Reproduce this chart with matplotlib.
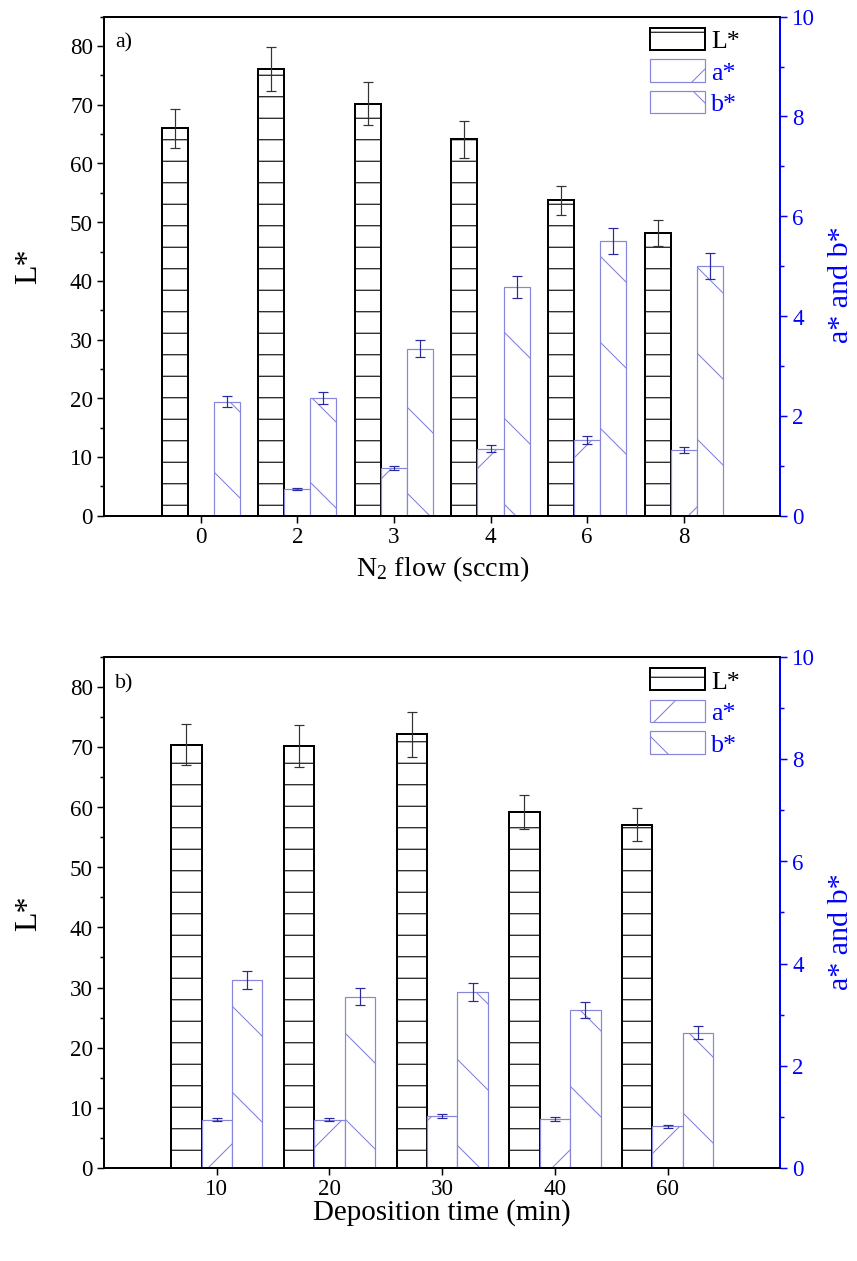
# Colour coordinates L*, a*, b* vs N2 flow and deposition time
# Twin-axis hatched bar charts (L* left, a*/b* right)

import matplotlib
matplotlib.use("Agg")
import matplotlib.pyplot as plt
import numpy as np
from matplotlib.ticker import MultipleLocator
from matplotlib.patches import Patch

DPI = 258
PX = 72 / DPI  # one pixel expressed in points

# ------------------------------------------------------------
# Data
# ------------------------------------------------------------
# a) N2 flow (sccm)
n2_flow = ["0", "2", "3", "4", "6", "8"]
L_n2 = [66.0, 76.1, 70.2, 64.1, 53.7, 48.2]
L_n2_err = [3.3, 3.8, 3.6, 3.1, 2.5, 2.2]
a_n2 = [0.0, 0.54, 0.96, 1.34, 1.51, 1.31]
a_n2_err = [0.0, 0.02, 0.04, 0.07, 0.08, 0.06]
b_n2 = [2.28, 2.36, 3.35, 4.59, 5.51, 5.01]
b_n2_err = [0.11, 0.12, 0.17, 0.22, 0.26, 0.26]

# b) Deposition time (min)
dep_time = ["10", "20", "30", "40", "60"]
L_time = [70.4, 70.2, 72.1, 59.2, 57.1]
L_time_err = [3.4, 3.5, 3.7, 2.9, 2.8]
a_time = [0.94, 0.94, 1.02, 0.95, 0.82]
a_time_err = [0.03, 0.03, 0.04, 0.04, 0.03]
b_time = [3.68, 3.35, 3.44, 3.09, 2.65]
b_time_err = [0.18, 0.17, 0.17, 0.15, 0.12]

BLUE = "#0000ff"
BAR_BLUE = "#8686dc"
ERR_BLUE = "#2a2aa0"
ERR_GREY = "#333333"

plt.rcParams["font.family"] = ["Liberation Serif", "DejaVu Serif"]
plt.rcParams["mathtext.fontset"] = "custom"
plt.rcParams["mathtext.rm"] = "Liberation Serif"
plt.rcParams["mathtext.default"] = "regular"
plt.rcParams["hatch.linewidth"] = 1.1 * PX


def draw_panel(fig, rect, cats, L, L_err, a, a_err, b, b_err, tag, xlabel, xlabel_size, xlabel_y):
    ax = fig.add_axes(rect)
    ax2 = ax.twinx()
    x = np.arange(len(cats))
    w = 0.27

    # L* bars on the left axis
    ax.bar(x - w, L, w, color="white", edgecolor="black", linewidth=2 * PX, hatch="--")
    ax.errorbar(x - w, L, yerr=L_err, fmt="none", ecolor=ERR_GREY,
                elinewidth=1.2 * PX, capsize=5 * PX, capthick=1.2 * PX)

    # a* and b* bars on the right axis
    ax2.bar(x, a, w, color="white", edgecolor=BAR_BLUE, linewidth=1.2 * PX, hatch="/")
    ax2.bar(x + w, b, w, color="white", edgecolor=BAR_BLUE, linewidth=1.2 * PX, hatch="\\")
    a_arr = np.array(a)
    keep = a_arr > 0
    ax2.errorbar(x[keep], a_arr[keep], yerr=np.array(a_err)[keep], fmt="none", ecolor=ERR_BLUE,
                 elinewidth=1.2 * PX, capsize=5 * PX, capthick=1.2 * PX)
    ax2.errorbar(x + w, b, yerr=b_err, fmt="none", ecolor=ERR_BLUE,
                 elinewidth=1.2 * PX, capsize=5 * PX, capthick=1.2 * PX)

    # axes, ticks
    ax.set_xlim(-1, len(cats))
    ax.set_ylim(0, 85)
    ax2.set_ylim(0, 10)
    ax.set_xticks(x, cats)
    ax.set_yticks(range(0, 81, 10))
    ax.yaxis.set_minor_locator(MultipleLocator(5))
    ax2.set_yticks(range(0, 11, 2))
    ax2.yaxis.set_minor_locator(MultipleLocator(1))

    ax.tick_params(axis="both", which="major", direction="out", length=7 * PX,
                   width=1.5 * PX, labelsize=23 * PX, pad=4 * PX)
    ax.tick_params(axis="y", which="minor", direction="out", length=4 * PX, width=1.5 * PX)
    ax2.tick_params(axis="y", which="major", direction="out", length=7 * PX, width=1.5 * PX,
                    labelsize=23 * PX, pad=5 * PX, colors=BLUE)
    ax2.tick_params(axis="y", which="minor", direction="out", length=4 * PX, width=1.5 * PX,
                    colors=BLUE)

    for sp in ax.spines.values():
        sp.set_linewidth(2 * PX)
    for sp in ax2.spines.values():
        sp.set_linewidth(2 * PX)
    ax.spines["right"].set_visible(False)
    ax2.spines["right"].set_color(BLUE)

    ax.set_ylabel("L*", fontsize=32 * PX)
    ax.yaxis.set_label_coords(-0.09, 0.5)
    ax2.set_ylabel("a* and b*", fontsize=30 * PX, color=BLUE)
    ax2.yaxis.set_label_coords(1.07, 0.463)
    ax.set_xlabel(xlabel, fontsize=xlabel_size * PX)
    ax.xaxis.set_label_coords(0.5, xlabel_y)

    ax.text(0.016, 0.948, tag, transform=ax.transAxes, fontsize=22 * PX, va="center")

    # legend
    handles = [
        Patch(facecolor="white", edgecolor="black", linewidth=2 * PX, hatch="--"),
        Patch(facecolor="white", edgecolor=BAR_BLUE, linewidth=1.2 * PX, hatch="/"),
        Patch(facecolor="white", edgecolor=BAR_BLUE, linewidth=1.2 * PX, hatch="\\"),
    ]
    leg = ax2.legend(handles, ["L*", "a*", "b*"], loc="upper right",
                     bbox_to_anchor=(0.94, 0.978), frameon=False, fontsize=26 * PX,
                     handlelength=2.1, handleheight=0.95, labelspacing=0.25,
                     handletextpad=0.25, borderpad=0, borderaxespad=0)
    for txt, col in zip(leg.get_texts(), ["black", BLUE, BLUE]):
        txt.set_color(col)
    return ax, ax2


fig = plt.figure(figsize=(857.4 / DPI, 1261.4 / DPI), dpi=DPI)
W, H = 857, 1261

draw_panel(fig, [104 / W, (H - 516) / H, 676 / W, 499 / H], n2_flow,
           L_n2, L_n2_err, a_n2, a_n2_err, b_n2, b_n2_err,
           "a)", "N$_2$ flow (sccm)", 28, -0.076)
draw_panel(fig, [104 / W, (H - 1168) / H, 676 / W, 511 / H], dep_time,
           L_time, L_time_err, a_time, a_time_err, b_time, b_time_err,
           "b)", "Deposition time (min)", 29, -0.061)

fig.savefig("out.png", dpi=DPI)
